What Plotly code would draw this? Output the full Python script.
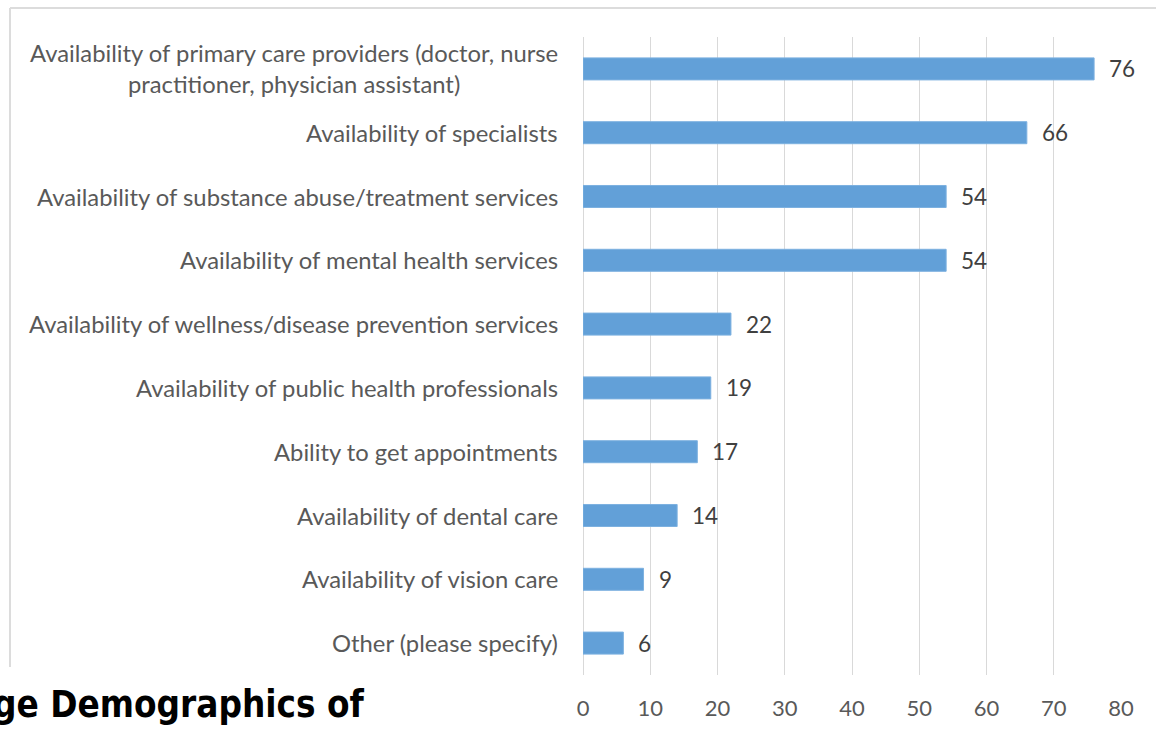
import plotly.graph_objects as go

categories = [
    "Availability of primary care providers (doctor, nurse<br>practitioner, physician assistant)",
    "Availability of specialists",
    "Availability of substance abuse/treatment services",
    "Availability of mental health services",
    "Availability of wellness/disease prevention services",
    "Availability of public health professionals",
    "Ability to get appointments",
    "Availability of dental care",
    "Availability of vision care",
    "Other (please specify)",
]
values = [76, 66, 54, 54, 22, 19, 17, 14, 9, 6]
tick_vals = [0, 10, 20, 30, 40, 50, 60, 70, 80]

W, H = 1156, 738
L, R, T, B = 583, 1121, 37, 675

def px_x(p):
    return (p - L) / (R - L)

def px_y(p):
    return (B - p) / (B - T)

label_font = "Lato, Calibri, Carlito, sans-serif"
gray = "#595959"

fig = go.Figure(go.Bar(
    x=values, y=categories, orientation="h",
    marker=dict(color="#62A0D8", line=dict(color="#7DB1E0", width=1)),
    width=0.345, hoverinfo="skip",
))

annotations = []
for c, v in zip(categories, values):
    annotations.append(dict(x=0, y=c, xref="x", yref="y", text=c, showarrow=False,
                            xanchor="right", yanchor="middle", align="center", xshift=-23,
                            font=dict(family=label_font, size=23.8, color=gray)))
    annotations.append(dict(x=v, y=c, xref="x", yref="y", text=str(v), showarrow=False,
                            xanchor="left", yanchor="middle", xshift=13,
                            font=dict(family=label_font, size=22.5, color="#404040")))

annotations.append(dict(x=px_x(-9), y=px_y(704), xref="paper", yref="paper",
                        text="<b>ge Demographics of</b>", showarrow=False,
                        xanchor="left", yanchor="middle",
                        font=dict(family="Liberation Sans Narrow, DejaVu Sans Condensed, sans-serif",
                                  size=36.5, color="#000000")))

shapes = [
    dict(type="line", xref="paper", yref="paper", x0=px_x(10), x1=px_x(1160),
         y0=px_y(8), y1=px_y(8), line=dict(color="#DCDCDC", width=2)),
    dict(type="line", xref="paper", yref="paper", x0=px_x(10), x1=px_x(10),
         y0=px_y(8), y1=px_y(667), line=dict(color="#DCDCDC", width=2)),
]

fig.update_layout(
    width=W, height=H,
    margin=dict(l=L, r=W - R, t=T, b=H - B, pad=0),
    paper_bgcolor="white", plot_bgcolor="white",
    showlegend=False,
    bargap=0,
    xaxis=dict(range=[0, 80], tickvals=tick_vals, showgrid=True, gridcolor="#D9D9D9",
               gridwidth=1, zeroline=True, zerolinecolor="#D9D9D9", zerolinewidth=1,
               showline=False, ticks="", ticklabelstandoff=18,
               tickfont=dict(family=label_font, size=22, color=gray), fixedrange=True),
    yaxis=dict(categoryorder="array", categoryarray=categories[::-1],
               showticklabels=False, showgrid=False, zeroline=False, showline=False,
               ticks="", fixedrange=True),
    annotations=annotations,
    shapes=shapes,
)

fig.write_html("out.html", config={"displayModeBar": False, "staticPlot": True},
               post_script="document.body.style.margin='0';document.body.style.overflow='hidden';")
